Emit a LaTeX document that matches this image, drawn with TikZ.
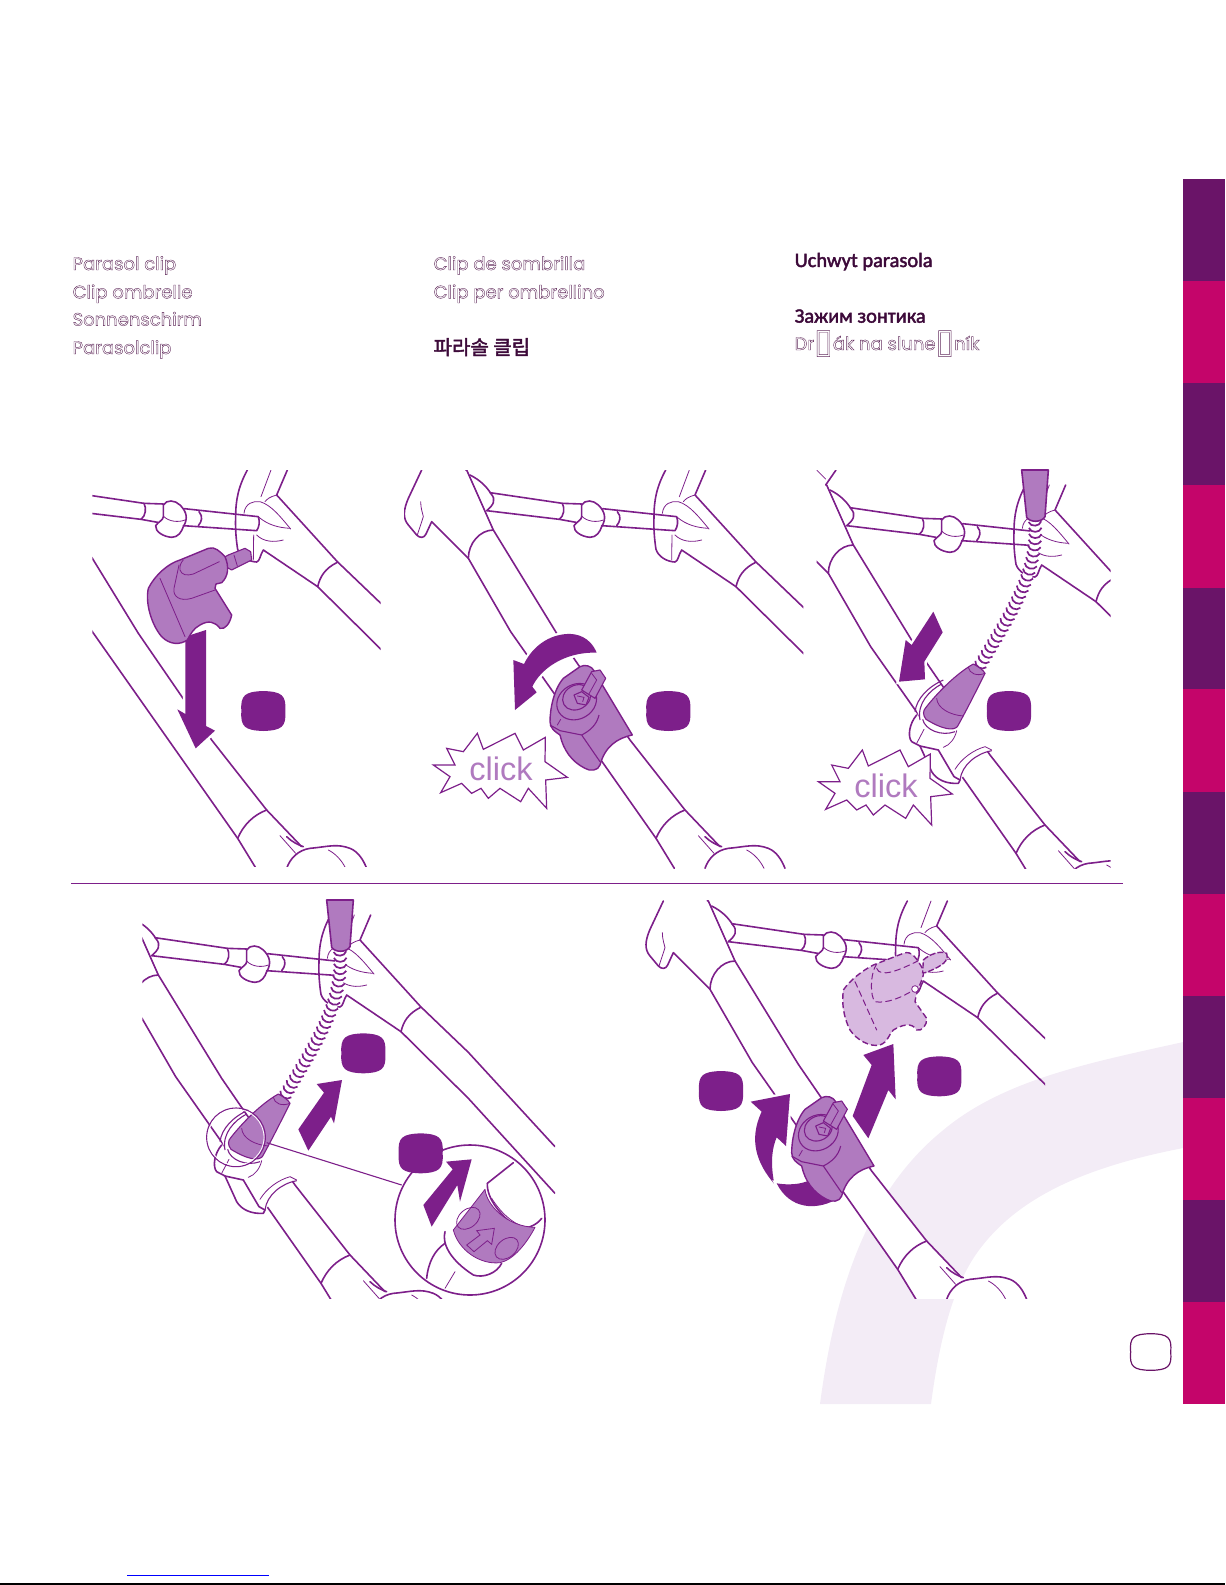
\documentclass[tikz,border=0pt]{standalone}
\usepackage{fontspec}
\usepackage{tikz}
\usetikzlibrary{decorations.markings}

\newfontfamily\roundfont{Poppins}
\newfontfamily\gillfont{Carlito}
\newfontfamily\koreanfont{Noto Sans CJK KR}
\newfontfamily\boxfont{DejaVu Sans}
\newfontfamily\clickfont{Liberation Sans}

\definecolor{clipdark}{HTML}{7D1F8A}
\definecolor{cliplight}{HTML}{B07ABF}
\definecolor{clipghost}{HTML}{D8B9E0}
\definecolor{swoosh}{HTML}{F3ECF6}
\definecolor{barplum}{HTML}{6A1468}
\definecolor{barpink}{HTML}{C4056A}
\definecolor{inkplum}{HTML}{3D0A3A}

\newcommand{\hollowtext}[1]{\special{pdf:code q 1 Tr 0.2 w 0.38 0.17 0.36 RG}#1\special{pdf:code Q}}
\newcommand{\heavytext}[1]{\special{pdf:code q 2 Tr 0.22 w 0.24 0.04 0.23 RG}#1\special{pdf:code Q}}
\newcommand{\noglyph}{{\boxfont\fontsize{17}{17}\selectfont\raisebox{-1.2pt}{\char"25AF}}}

\tikzset{
    heading/.style={anchor=base west, inner sep=0pt, text=inkplum, font=\roundfont\fontsize{9}{11}\selectfont},
    headingb/.style={anchor=base west, inner sep=0pt, text=inkplum, font=\gillfont\fontsize{10.2}{12}\selectfont},
    thick line/.style={draw=clipdark, line width=.8pt, line join=round, line cap=round},
    thin line/.style={draw=clipdark, line width=.4pt, line cap=round},
    small line/.style={draw=clipdark, line width=.55pt, line join=round},
    bigarrow/.style={fill=clipdark, preaction={draw=white, line width=2.4pt}},
    clickbody/.style={fill=cliplight, draw=clipdark, line width=.7pt, line join=round},
    clicktext/.style={inner sep=0pt, text=cliplight, font=\clickfont\fontsize{16.3}{18}\selectfont},
    coil/.style={decoration={markings, mark=between positions 0 and 1 step 3.1pt with {
        \draw[draw=clipdark, line width=.85pt] (-5,-19) .. controls (11,-13) and (11,13) .. (-5,19);}},
        postaction={decorate}},
    badge/.pic={
        \fill[clipdark] (-66,0) .. controls (-69,-48) and (-55,-58) .. (0,-60)
            .. controls (55,-58) and (69,-48) .. (66,0)
            .. controls (69,48) and (55,58) .. (0,60)
            .. controls (-55,58) and (-69,48) .. (-66,0) -- cycle;
    },
    frame/.pic={
        % right hand part
        \draw[thick line] (797,30) .. controls (770,80) and (762,120) .. (762,170) .. controls (760,210) and (765,250) .. (768,268)
            .. controls (775,290) and (800,305) .. (825,306) .. controls (835,303) and (835,285) .. (845,270)
            -- (1008,380) -- (1210,580) -- (1470,865);
        \draw[thick line] (917,30) -- (885,105) -- (1067,305) -- (1210,442) -- (1470,725);
        \draw[thick line] (1067,307) .. controls (1030,325) and (1015,350) .. (1008,380);
        \draw[thin line] (868,30) -- (838,110);
        \draw[thin line] (885,105) .. controls (865,110) and (855,118) .. (850,125);
        \draw[thin line] (787,160) .. controls (790,130) and (815,122) .. (835,125) .. controls (870,135) and (900,175) .. (927,207);
        \draw[thin line] (832,172) .. controls (860,195) and (890,203) .. (925,205);
        \draw[thin line] (816,225) -- (815,300);
        \draw[thin line] (825,225) .. controls (845,245) and (875,248) .. (905,240);
        % left hand part
        \draw[thick line] (65,30) -- (25,115) .. controls (10,150) and (8,175) .. (25,195) -- (50,225) .. controls (60,235) and (72,235) .. (78,222)
            -- (95,185) -- (205,295) -- (332,515) -- (768,1135) -- (823,1225);
        \draw[thick line] (200,30) -- (280,210) -- (470,520) -- (690,840) -- (855,1050) -- (960,1160);
        \draw[thick line] (228,-15) -- (197,30);
        \draw[thin line] (170,-15) -- (197,12);
        \draw[thick line] (205,295) .. controls (205,250) and (240,210) .. (280,210);
        \draw[thick line] (210,45) .. controls (240,60) and (260,80) .. (272,100) .. controls (290,120) and (280,135) .. (260,152);
        \draw[thin line] (62,125) .. controls (62,145) and (68,160) .. (70,170) -- (52,225);
        % cross bar with knob
        \draw[thick line] (270,98) -- (487,130) -- (545,132);
        \draw[thick line] (260,152) -- (478,178) -- (528,187);
        \draw[thick line] (487,130) .. controls (495,145) and (492,168) .. (478,178);
        \draw[thick line] (608,146) -- (830,170) .. controls (835,185) and (833,200) .. (825,212) -- (605,197);
        \draw[thick line] (652,155) .. controls (665,170) and (660,185) .. (650,197);
        \draw[thick line] (545,135) .. controls (555,118) and (580,120) .. (595,135) .. controls (615,155) and (620,175) .. (605,200)
            .. controls (600,215) and (590,232) .. (570,232) .. controls (545,230) and (520,215) .. (522,197) .. controls (530,185) and (545,180) .. (545,170) -- (545,135);
        \draw[thin line] (545,168) .. controls (560,185) and (590,188) .. (610,180);
        % lower band and wheel
        \draw[thick line] (768,1135) .. controls (785,1095) and (815,1065) .. (855,1050);
        \draw[thick line] (915,1225) .. controls (925,1195) and (950,1170) .. (985,1165) .. controls (1040,1160) and (1065,1150) .. (1105,1165) .. controls (1130,1175) and (1145,1200) .. (1155,1225);
        \draw[thin line] (895,1127) -- (942,1180);
        \draw[thick line] (915,1130) .. controls (930,1145) and (950,1155) .. (965,1160);
        \draw[thin line] (1040,1170) .. controls (1060,1180) and (1080,1200) .. (1092,1225);
    },
    burst/.pic={
        \draw[fill=white, draw=clipdark, line width=.6pt, line join=miter] (100,915) -- (165,915) -- (140,865) -- (190,875) -- (232,820) -- (250,868)
            -- (345,820) -- (370,870) -- (436,832) -- (435,905) -- (502,952) -- (437,960) -- (440,1045) -- (385,985)
            -- (362,1025) -- (300,985) -- (265,1015) -- (243,985) -- (215,1000) -- (185,970) -- (122,998) -- (150,950) -- cycle;
        \node[clicktext] (word) at (303,927) {click};
    },
    clipfit/.pic={
        \path[clickbody] (540,620) .. controls (555,612) and (575,618) .. (582,632) -- (610,680) -- (697,825)
            .. controls (650,835) and (615,860) .. (600,915) .. controls (595,932) and (570,935) .. (555,925)
            .. controls (515,905) and (490,870) .. (480,825) .. controls (465,815) and (450,805) .. (450,785)
            .. controls (450,750) and (460,690) .. (490,655) -- cycle;
        \draw[small line] (450,795) -- (480,812) -- (545,825) -- (600,905);
        \draw[thin line] (472,795) -- (482,778);
        \draw[small line] (545,825) .. controls (570,812) and (590,795) .. (597,765);
        \draw[small line, fill=cliplight, rotate around={30:(530,725)}] (530,725) ellipse (62 and 52);
        \draw[small line, fill=cliplight, rotate around={30:(530,712)}] (530,712) ellipse (44 and 36);
        \draw[small line, fill=cliplight] (545,690) -- (575,635) -- (600,630) -- (617,655) -- (585,715) -- cycle;
        \draw[thin line] (575,640) -- (590,660) -- (565,705);
        \draw[small line, fill=cliplight] (522,705) -- (545,695) -- (567,712) -- (558,735) -- (532,730) -- cycle;
        \draw[thin line] (532,708) -- (552,712) -- (548,725);
    },
    conefit/.pic={
        % coordinates as in the third panel
        \fill[white] (350,750) -- (495,755) -- (565,870) -- (480,958) -- (430,965) -- cycle;
        \draw[thick line, fill=cliplight] (665,30) -- (745,30) -- (735,170) .. controls (725,188) and (690,188) .. (680,172) -- cycle;
        \draw[white, line width=5pt] (705,190) .. controls (715,345) and (625,470) .. (535,625);
        \path[coil] (705,190) .. controls (715,345) and (625,470) .. (535,625);
        \draw[thick line] (350,765) .. controls (328,790) and (322,830) .. (335,845) -- (360,858) -- (415,870) -- (462,950) -- (480,960);
        \draw[thick line] (360,858) -- (395,935) .. controls (410,960) and (440,972) .. (475,970) -- (480,960);
        \draw[small line] (345,755) .. controls (350,715) and (385,680) .. (430,660);
        \draw[small line] (360,780) .. controls (350,730) and (390,690) .. (425,672);
        \draw[small line] (368,778) .. controls (375,810) and (425,830) .. (465,815);
        \draw[thin line] (372,808) -- (350,850);
        \draw[thin line] (470,812) .. controls (465,835) and (450,855) .. (430,862);
        \draw[thin line] (465,928) .. controls (485,895) and (520,870) .. (555,860) -- (575,870);
        \draw[small line] (480,960) .. controls (485,915) and (530,880) .. (575,872);
        \draw[small line, fill=cliplight] (520,612) .. controls (535,620) and (550,630) .. (555,640) .. controls (530,690) and (500,750) .. (472,800) .. controls (460,812) and (430,810) .. (378,778)
            .. controls (368,765) and (368,752) .. (378,742) .. controls (415,695) and (470,640) .. (520,612) -- cycle;
        \draw[thin line] (410,715) .. controls (412,745) and (450,765) .. (490,768);
        \draw[thin line] (505,622) .. controls (508,640) and (530,650) .. (555,640);
    }
}

\begin{document}
\begin{tikzpicture}[x=0.166667pt, y=-0.166667pt, line width=.65pt]
    \useasboundingbox (0,0) rectangle (3675,4755);

    % swoosh and side bar
    \fill[swoosh] (2460,4212) .. controls (2510,3830) and (2620,3560) .. (2830,3390) .. controls (3010,3240) and (3260,3190) .. (3550,3126)
        -- (3550,3444) .. controls (3260,3500) and (3050,3590) .. (2930,3760) .. controls (2860,3860) and (2820,4010) .. (2793,4212) -- cycle;
    \foreach \i [evaluate=\i as \top using {537+306.25*\i}] in {0,2,4,6,8,10} {
        \fill[barplum] (3549,\top) rectangle (3675,\top+307);
    }
    \foreach \i [evaluate=\i as \top using {537+306.25*\i}] in {1,3,5,7,9,11} {
        \fill[barpink] (3549,\top) rectangle (3675,\top+307);
    }
    \draw[draw=barplum, line width=.6pt] (3392,4056) .. controls (3388,4012) and (3400,4002) .. (3452,4001)
        .. controls (3504,4002) and (3516,4012) .. (3512,4056)
        .. controls (3516,4100) and (3504,4110) .. (3452,4111)
        .. controls (3400,4110) and (3388,4100) .. (3392,4056) -- cycle;

    % headings
    \node[heading] (en) at (216,810) {\hollowtext{Parasol clip}};
    \node[heading] (fr) at (216,895) {\hollowtext{Clip ombrelle}};
    \node[heading] (de) at (216,977) {\hollowtext{Sonnenschirm}};
    \node[heading] (nl) at (216,1062) {\hollowtext{Parasolclip}};
    \node[heading] (es) at (1299,810) {\hollowtext{Clip de sombrilla}};
    \node[heading] (it) at (1299,895) {\hollowtext{Clip per ombrellino}};
    \node[heading, font=\koreanfont\fontsize{10}{12}\selectfont] (ko) at (1299,1064) {\heavytext{파라솔 클립}};
    \node[headingb] (pl) at (2382,801) {\heavytext{Uchwyt parasola}};
    \node[headingb] (ru) at (2382,968) {\heavytext{Зажим зонтика}};
    \node[heading] (cs) at (2382,1050) {\hollowtext{Dr\noglyph ák na slune\noglyph ník}};

    % rule between the rows
    \draw[draw=clipdark, line width=.4pt] (213,2649) -- (3369,2649);

    % panel 1
    \begin{scope}[shift={(-55,1380)}]
        \clip (332,30) rectangle (1197,1220);
        \pic {frame};
    \end{scope}
    \begin{scope}[shift={(240,1380)}]
        \path[bigarrow] (316,530) -- (316,762) -- (292,748) -- (347,865) -- (405,812) -- (378,798) -- (378,510) -- cycle;
        \draw[small line, fill=cliplight] (432,292) -- (445,285) -- (495,265) -- (512,275) -- (515,300) -- (455,330) -- (440,322) -- cycle;
        \draw[thin line] (462,285) -- (472,318);
        \path[clickbody] (205,385) .. controls (225,345) and (265,310) .. (300,300) -- (385,265) .. controls (405,258) and (420,275) .. (435,290)
            .. controls (448,320) and (445,350) .. (425,368) -- (408,372) -- (405,385) -- (455,465) .. controls (450,490) and (435,510) .. (420,505)
            .. controls (405,485) and (385,480) .. (360,495) .. controls (340,505) and (330,525) .. (322,540)
            .. controls (300,555) and (270,555) .. (245,530) .. controls (215,495) and (195,430) .. (205,385) -- cycle;
        \draw[thin line] (240,355) -- (315,530);
        \draw[thin line] (418,305) -- (340,342) .. controls (320,348) and (305,345) .. (300,330) .. controls (298,315) and (305,305) .. (310,300);
        \draw[thin line] (297,315) -- (282,385) .. controls (278,410) and (300,425) .. (335,415) -- (405,390);
        \pic at (550,753) {badge};
    \end{scope}

    % panel 2
    \begin{scope}[shift={(1200,1380)}]
        \clip (12,30) rectangle (1210,1226);
        \pic {frame};
    \end{scope}
    \begin{scope}[shift={(1200,1380)}]
        \path[bigarrow] (590,578) .. controls (570,530) and (530,520) .. (500,522) .. controls (450,525) and (400,555) .. (372,612)
            -- (340,600) -- (345,750) -- (410,697) -- (397,680) .. controls (420,630) and (490,575) .. (590,578) -- cycle;
        \pic at (0,0) {clipfit};
        \pic (bursta) at (0,0) {burst};
        \pic at (805,753) {badge};
    \end{scope}

    % panel 3
    \begin{scope}[shift={(2280,1425)}]
        \clip (170,-15) rectangle (1052,1181);
        \pic {frame};
    \end{scope}
    \begin{scope}[shift={(2400,1380)}]
        \path[bigarrow] (400,455) -- (428,517) -- (373,605) -- (375,658) -- (297,665) -- (317,540) -- (335,555) -- cycle;
        \pic at (0,0) {conefit};
        \pic (burstb) at (-45,50) {burst};
        \pic at (627,753) {badge};
    \end{scope}

    % panel 4
    \begin{scope}[shift={(195,2715)}]
        \clip (232,-45) rectangle (1470,1181);
        \pic {frame};
    \end{scope}
    \pic at (315,2670) {conefit};
    \begin{scope}[shift={(390,2670)}]
        \coordinate (lensend) at (410,758);
        \coordinate (detailend) at (815,885);
        \draw[small line] (lensend) -- (detailend);
        \draw[small line] (318,742) circle (88);
        \draw[draw=white, line width=.4pt] (318,742) circle (84);
        \draw[thick line, fill=white] (1020,990) circle (225);
        \begin{scope}
            \clip (1020,990) circle (224);
            \draw[thick line] (1072,880) -- (1150,818);
            \draw[thick line] (1072,880) .. controls (1070,925) and (1110,975) .. (1160,1012) .. controls (1190,1020) and (1220,1005) .. (1235,985);
            \draw[thin line] (1085,925) .. controls (1110,965) and (1150,1005) .. (1190,1012);
            \draw[thick line] (945,1025) .. controls (935,1060) and (960,1110) .. (1030,1155) .. controls (1060,1165) and (1100,1150) .. (1115,1120);
            \draw[thick line] (945,1060) .. controls (915,1080) and (895,1115) .. (890,1165);
            \draw[thin line] (975,1145) -- (945,1195);
            \path[clickbody, line width=.4pt] (970,1020) -- (1065,898) .. controls (1070,945) and (1130,1010) .. (1215,1012)
                .. controls (1190,1060) and (1150,1110) .. (1110,1118) .. controls (1050,1125) and (985,1080) .. (970,1020) -- cycle;
            \draw[thin line, rotate around={40:(1015,985)}] (1015,985) ellipse (40 and 27);
            \draw[thin line, rotate around={40:(1130,1075)}] (1130,1075) ellipse (40 and 27);
            \draw[thin line] (1010,1065) -- (1050,1035) -- (1040,1022) -- (1093,1015) -- (1085,1063) -- (1072,1052) -- (1032,1085) -- cycle;
            \fill[clipdark] (948,815) -- (1025,808) -- (990,935) -- (982,885) -- (905,1010) -- (880,945) -- (968,838) -- cycle;
        \end{scope}
        \path[bigarrow] (560,582) -- (636,570) -- (612,700) -- (603,680) -- (535,782) -- (505,718) -- (582,608) -- cycle;
        \pic at (700,490) {badge};
        \pic at (872,790) {badge};
    \end{scope}

    % panel 5
    \begin{scope}[shift={(1925,2673)}]
        \clip (-5,27) rectangle (1210,1223);
        \fill[white] (600,900) -- (690,835) -- (855,1050) -- (960,1160) -- (985,1165) -- (1105,1165) -- (1155,1225) -- (823,1225) -- (768,1135) -- cycle;
        \pic {frame};
    \end{scope}
    \begin{scope}[shift={(1920,2670)}]
        \draw[fill=clipghost, draw=clipdark, line width=.7pt, dash pattern=on 3pt off 1.6pt] (610,300) .. controls (630,270) and (670,240) .. (700,225) -- (790,190)
            .. controls (815,180) and (830,205) .. (850,240) .. controls (855,265) and (830,290) .. (825,335) -- (860,385) .. controls (862,405) and (845,425) .. (830,420)
            .. controls (815,395) and (785,405) .. (760,420) .. controls (745,435) and (745,455) .. (720,465) .. controls (690,472) and (650,450) .. (630,420)
            .. controls (610,380) and (605,340) .. (610,300) -- cycle;
        \draw[fill=clipghost, draw=clipdark, line width=.7pt, dash pattern=on 3pt off 1pt] (850,210) .. controls (865,195) and (900,180) .. (920,190)
            .. controls (925,205) and (920,220) .. (880,238) .. controls (865,245) and (855,250) .. (848,248) -- cycle;
        \draw[thin line, line width=.5pt, dash pattern=on 3pt off 2pt] (645,275) -- (710,420);
        \draw[thin line, line width=.5pt, dash pattern=on 3pt off 2pt] (710,222) .. controls (690,250) and (690,320) .. (705,335) .. controls (740,342) and (790,320) .. (820,300);
        \draw[thin line, line width=.5pt, dash pattern=on 3pt off 2pt] (710,235) .. controls (720,265) and (780,240) .. (835,212);
        \draw[thin line, fill=white] (825,297) circle (10);
        \path[bigarrow] (670,495) -- (760,462) -- (767,628) -- (745,600) -- (685,745) -- (638,678) -- (695,525) -- cycle;
        \path[bigarrow] (332,635) -- (450,612) -- (438,768) -- (410,742) .. controls (390,790) and (395,840) .. (403,882)
            .. controls (350,820) and (325,750) .. (365,665) -- cycle;
        \path[bigarrow] (410,880) .. controls (440,885) and (480,885) .. (510,870) -- (585,930) .. controls (530,960) and (450,960) .. (410,880) -- cycle;
        \pic at (5,3) {clipfit};
        \pic at (243,603) {badge};
        \pic at (898,559) {badge};
    \end{scope}

    % bottom rules
    \draw[draw=blue, line width=.5pt] (381,4725) -- (807,4725);
    \fill[black] (0,4750) rectangle (3675,4755);
\end{tikzpicture}
\end{document}
